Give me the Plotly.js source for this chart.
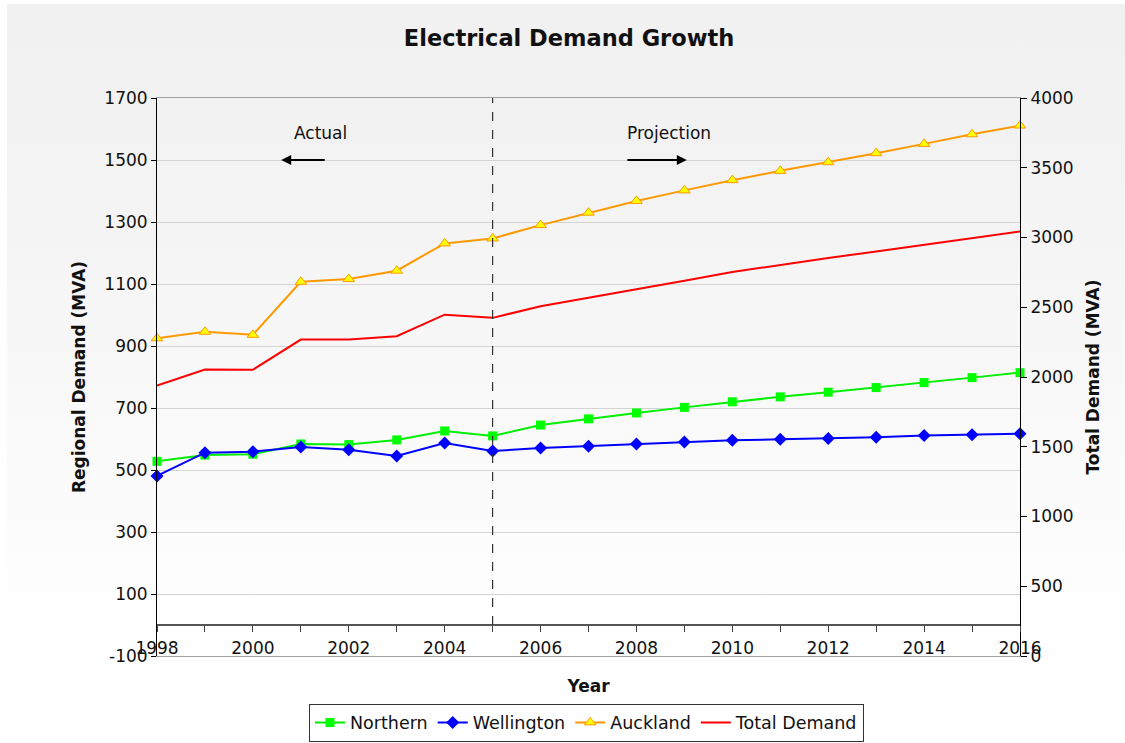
<!DOCTYPE html>
<html>
<head>
<meta charset="utf-8">
<script src="https://cdn.plot.ly/plotly-3.0.1.min.js"></script>
<style>
  html, body { margin: 0; padding: 0; background: #ffffff; }
  #bg { position: absolute; left: 7px; top: 4px; width: 1118px; height: 658px;
        background: linear-gradient(to bottom, #f1f1f1 0%, #f2f2f2 20%, #f7f7f7 50%, #fdfdfd 85%, #ffffff 100%); }
  #chart { position: absolute; left: 0; top: 0; width: 1125px; height: 743px; }
</style>
</head>
<body>
<div id="bg"></div>
<div id="chart"></div>
<script>
// ---- data ----
const years = [1998,1999,2000,2001,2002,2003,2004,2005,2006,2007,2008,2009,2010,2011,2012,2013,2014,2015,2016];
const northern   = [528,548,551,584,582,597,626,610,645,665,684,702,720,736,751,766,782,798,814];
const wellington = [481,556,559,574,565,545,587,561,571,577,584,590,596,599,602,606,611,614,617];
const auckland   = [925,946,936,1107,1116,1143,1231,1247,1290,1330,1368,1402,1435,1465,1493,1522,1552,1583,1611];
const totalDemand = [1939,2054,2052,2268,2268,2292,2447,2424,2507,2567,2626,2690,2753,2805,2853,2900,2948,2996,3043];
const xTickLabels = years.map(y => (y % 2 === 0 ? String(y) : ''));
const leftTickVals = [-100,100,300,500,700,900,1100,1300,1500,1700];
const leftTickText = ['-100','100','300','500','700','900','1100','1300','1500','1700'];
const rightTickVals = [0,500,1000,1500,2000,2500,3000,3500,4000];
const rightTickText = ['0','500','1000','1500','2000','2500','3000','3500','4000'];
const dividerYear = 2005;

const FONT = '"DejaVu Sans", Verdana, sans-serif';

const traces = [
  { x: years, y: northern, name: 'Northern', type: 'scatter', mode: 'lines+markers',
    line: { color: '#00ee00', width: 2 }, marker: { symbol: 'square', size: 9, color: '#00ff00' },
    cliponaxis: false },
  { x: years, y: wellington, name: 'Wellington', type: 'scatter', mode: 'lines+markers',
    line: { color: '#0000ff', width: 2 }, marker: { symbol: 'diamond', size: 10, color: '#0000ff' },
    cliponaxis: false },
  { x: years, y: auckland, name: 'Auckland', type: 'scatter', mode: 'lines+markers',
    line: { color: '#ff9900', width: 2 },
    marker: { symbol: 'triangle-up', size: 10, color: '#ffff00', line: { color: '#ff9900', width: 1 } },
    cliponaxis: false },
  { x: years, y: totalDemand, name: 'Total Demand', type: 'scatter', mode: 'lines',
    xaxis: 'x2', yaxis: 'y2',
    line: { color: '#ff0000', width: 2 }, cliponaxis: false }
];

const layout = {
  width: 1125, height: 743,
  paper_bgcolor: 'rgba(0,0,0,0)', plot_bgcolor: 'rgba(0,0,0,0)',
  font: { family: FONT, size: 17, color: '#111' },
  margin: { l: 157, r: 105, t: 98, b: 87, autoexpand: false },
  title: { text: '<b>Electrical Demand Growth</b>', font: { family: FONT, size: 22.5, color: '#111' },
           x: 0.5058, xref: 'container', y: 0.949, yref: 'container', yanchor: 'middle' },
  showlegend: true,
  legend: { orientation: 'h', x: 0.4977, xanchor: 'center', y: 1.5 / 743, yref: 'container', yanchor: 'bottom',
            bgcolor: '#ffffff', bordercolor: '#333', borderwidth: 1,
            font: { family: FONT, size: 17.5, color: '#111' }, traceorder: 'normal' },
  xaxis: { range: [1998, 2016], showline: true, linecolor: '#a0a0a0', linewidth: 1, mirror: true,
           showgrid: false, zeroline: false, ticks: '', showticklabels: false, automargin: false,
           title: { text: '<b>Year</b>', font: { family: FONT, size: 17, color: '#111' }, standoff: 24 } },
  xaxis2: { overlaying: 'x', anchor: 'free', position: 100 / 1800, side: 'bottom', automargin: false,
            range: [1998, 2016], tickvals: years, ticktext: xTickLabels,
            ticks: 'outside', ticklen: 6, tickcolor: '#444', tickwidth: 1,
            showline: true, linecolor: '#555', linewidth: 2, showgrid: false, zeroline: false,
            ticklabelstandoff: 2, tickfont: { family: FONT, size: 17, color: '#111' } },
  yaxis: { range: [-100, 1700], tickvals: leftTickVals, ticktext: leftTickText, showgrid: true, gridcolor: '#d4d4d4',
           zeroline: false, showline: true, linecolor: '#000', linewidth: 1, automargin: false,
           ticks: 'outside', ticklen: 5, tickcolor: '#000',
           tickfont: { family: FONT, size: 17, color: '#111' },
           title: { text: '<b>Regional Demand (MVA)</b>', font: { family: FONT, size: 17, color: '#111' }, standoff: 14 } },
  yaxis2: { overlaying: 'y', side: 'right', anchor: 'x', range: [0, 4000], tickvals: rightTickVals, ticktext: rightTickText,
            showgrid: false, zeroline: false, showline: true, linecolor: '#000', linewidth: 1, automargin: false,
            ticks: 'outside', ticklen: 6, tickcolor: '#000',
            tickfont: { family: FONT, size: 17, color: '#111' },
            title: { text: '<b>Total Demand (MVA)</b>', font: { family: FONT, size: 17, color: '#111' }, standoff: 14 } },
  shapes: [
    { type: 'line', xref: 'x', yref: 'y', x0: dividerYear, x1: dividerYear, y0: 0, y1: 1700,
      line: { color: '#333', width: 1.2, dash: 'dash' } }
  ],
  annotations: [
    { text: 'Actual', xref: 'x', yref: 'y', x: 2001.4, y: 1587, showarrow: false,
      font: { family: FONT, size: 17, color: '#111' } },
    { text: '', xref: 'x', yref: 'y', axref: 'x', ayref: 'y',
      x: 2000.59, y: 1500, ax: 2001.53, ay: 1500, showarrow: true,
      arrowhead: 2, arrowsize: 1, arrowwidth: 2, arrowcolor: '#000' },
    { text: 'Projection', xref: 'x', yref: 'y', x: 2008.68, y: 1587, showarrow: false,
      font: { family: FONT, size: 17, color: '#111' } },
    { text: '', xref: 'x', yref: 'y', axref: 'x', ayref: 'y',
      x: 2009.05, y: 1500, ax: 2007.78, ay: 1500, showarrow: true,
      arrowhead: 2, arrowsize: 1, arrowwidth: 2, arrowcolor: '#000' }
  ]
};

Plotly.newPlot('chart', traces, layout, { displayModeBar: false, staticPlot: true });
</script>
</body>
</html>
